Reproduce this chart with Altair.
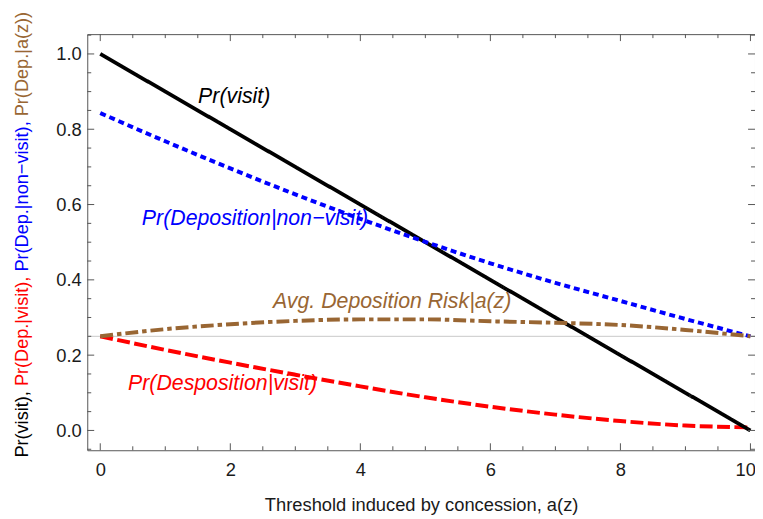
import altair as alt
import pandas as pd

# ---- data ----
xs = [0, 1, 2, 3, 4, 5, 6, 7, 8, 9, 10]
pr_visit = [1.0, 0.9, 0.8, 0.7, 0.6, 0.5, 0.4, 0.3, 0.2, 0.1, 0.0]
pr_dep_nonvisit = [0.843, 0.768, 0.696, 0.627, 0.562, 0.501, 0.444, 0.392, 0.344, 0.296, 0.25]
pr_dep_visit = [0.25, 0.214, 0.18, 0.148, 0.117, 0.088, 0.063, 0.042, 0.025, 0.013, 0.008]
avg_dep_risk = [0.25, 0.269, 0.282, 0.291, 0.295, 0.295, 0.290, 0.286, 0.280, 0.267, 0.25]
ref_level = 0.25

label_texts = ["Pr(visit)", "Pr(Deposition|non\u2212visit)", "Pr(Desposition|visit)",
               "Avg. Deposition Risk|a(z)"]
label_series = ["visit", "nonvisit", "depvisit", "avg"]
label_x = [2.06, 2.38, 1.88, 4.49]
label_y = [0.886, 0.562, 0.123, 0.341]

x_major = [0, 2, 4, 6, 8, 10]
x_minor = [0.5, 1, 1.5, 2.5, 3, 3.5, 4.5, 5, 5.5, 6.5, 7, 7.5, 8.5, 9, 9.5]
y_major = [0.0, 0.2, 0.4, 0.6, 0.8, 1.0]
y_minor = [-0.05, 0.05, 0.1, 0.15, 0.25, 0.3, 0.35, 0.45, 0.5, 0.55, 0.65, 0.7, 0.75,
           0.85, 0.9, 0.95, 1.05]

ytitle_parts = ["Pr(visit), ", "Pr(Dep.|visit), ", "Pr(Dep.|non\u2212visit), ", "Pr(Dep.|a(z))"]
ytitle_colors = ["#000000", "#FF0000", "#0000FF", "#996633"]

# ---- styling ----
W, H = 674, 420
FONT = "Liberation Sans"
colors = {"visit": "#000000", "nonvisit": "#0000FF", "depvisit": "#FF0000", "avg": "#996633"}
dashes = {"visit": [1, 0], "nonvisit": [6, 4], "depvisit": [13, 4.5], "avg": [13, 4, 4.5, 4]}
widths = {"visit": 3.8, "nonvisit": 4, "depvisit": 4, "avg": 4}

xscale = alt.Scale(domain=[-0.2, 10.07], nice=False, zero=False)
yscale = alt.Scale(domain=[-0.0526, 1.0526], nice=False, zero=False)

lines_df = pd.DataFrame({
    "x": xs * 4,
    "v": pr_visit + pr_dep_nonvisit + pr_dep_visit + avg_dep_risk,
    "s": ["visit"] * 11 + ["nonvisit"] * 11 + ["depvisit"] * 11 + ["avg"] * 11,
})

base = alt.Chart(lines_df)

xaxis = alt.Axis(values=x_major, format="d", ticks=False, domain=False, grid=False,
                 labelFontSize=18.5, labelFont=FONT, labelColor="#1a1a1a", labelPadding=10,
                 labelAlign={"condition": {"test": "datum.value >= 10", "value": "right"},
                             "value": "center"},
                 labelOffset={"condition": {"test": "datum.value >= 10", "value": 5},
                              "value": 0},
                 title="Threshold induced by concession, a(z)", titleFont=FONT,
                 titleFontSize=18.5, titleFontWeight="normal", titleColor="#1a1a1a",
                 titleY=61, titleX=W / 2, titleBaseline="alphabetic")
yaxis = alt.Axis(values=y_major, format=".1f", ticks=False, domain=False, grid=False,
                 labelFontSize=18.5, labelFont=FONT, labelColor="#1a1a1a", labelPadding=6,
                 title="")

gray = alt.Chart(pd.DataFrame({"r": [ref_level]})).mark_rule(
    color="#c8c8c8", strokeWidth=1).encode(
    y=alt.Y("r:Q", scale=yscale, axis=yaxis))

layers = [gray]
for s in ["depvisit", "visit", "nonvisit", "avg"]:
    layers.append(
        base.transform_filter(alt.datum.s == s).mark_line(
            color=colors[s], strokeWidth=widths[s], strokeDash=dashes[s],
            strokeCap="butt", interpolate="monotone").encode(
            x=alt.X("x:Q", scale=xscale, axis=xaxis),
            y=alt.Y("v:Q", scale=yscale, axis=yaxis))
    )

labels_df = pd.DataFrame({"t": label_texts, "s": label_series, "lx": label_x, "ly": label_y})
labels = alt.Chart(labels_df).mark_text(
    font=FONT, fontSize=21.5, fontStyle="italic", align="center", baseline="middle").encode(
    x=alt.X("lx:Q", scale=xscale, axis=xaxis),
    y=alt.Y("ly:Q", scale=yscale, axis=yaxis),
    text="t:N",
    color=alt.Color("s:N", scale=alt.Scale(domain=list(colors.keys()),
                                           range=list(colors.values())), legend=None))
layers.append(labels)

# frame ticks (inward)
TICK = "#555555"
def xticks(vals, length, side):
    d = alt.Chart(pd.DataFrame({"p": vals})).mark_rule(color=TICK, strokeWidth=1)
    if side == "bottom":
        return d.encode(x=alt.X("p:Q", scale=xscale, axis=xaxis), y=alt.value(H), y2=alt.value(H - length))
    return d.encode(x=alt.X("p:Q", scale=xscale, axis=xaxis), y=alt.value(0), y2=alt.value(length))

def yticks(vals, length, side):
    d = alt.Chart(pd.DataFrame({"p": vals})).mark_rule(color=TICK, strokeWidth=1)
    if side == "left":
        return d.encode(y=alt.Y("p:Q", scale=yscale, axis=yaxis), x=alt.value(0), x2=alt.value(length))
    return d.encode(y=alt.Y("p:Q", scale=yscale, axis=yaxis), x=alt.value(W), x2=alt.value(W - length))

for side in ["bottom", "top"]:
    layers.append(xticks(x_major, 7, side))
    layers.append(xticks(x_minor, 4, side))
for side in ["left", "right"]:
    layers.append(yticks(y_major, 7, side))
    layers.append(yticks(y_minor, 4, side))

# multi-coloured rotated y title
ARIAL = {"P": 667, "r": 333, "(": 333, ")": 333, "v": 500, "i": 222, "s": 500, "t": 278,
         ",": 278, " ": 278, "D": 722, "e": 556, "p": 556, ".": 278, "|": 260, "n": 556,
         "o": 556, "\u2212": 584, "a": 556, "z": 500}
TFS = 18.3
lens = [sum(ARIAL.get(c, 556) for c in part) * TFS / 1000 for part in ytitle_parts]
total = sum(lens) - ARIAL[" "] * TFS / 1000
start = 205 + total / 2
pos = start
for part, col, ln in zip(ytitle_parts, ytitle_colors, lens):
    layers.append(
        alt.Chart(pd.DataFrame({"t": [part.strip()]})).mark_text(
            font=FONT, fontSize=TFS, angle=270, align="left", baseline="alphabetic",
            color=col).encode(x=alt.value(-60), y=alt.value(pos), text="t:N"))
    pos -= ln

chart = alt.layer(*layers).properties(
    width=W, height=H,
    autosize=alt.AutoSizeParams(type="none"),
    padding={"left": 80, "top": 24, "right": 0, "bottom": 66},
).configure_view(stroke="#555555", strokeWidth=1)

chart.save("out.html", embed_options={"renderer": "svg", "actions": False})
